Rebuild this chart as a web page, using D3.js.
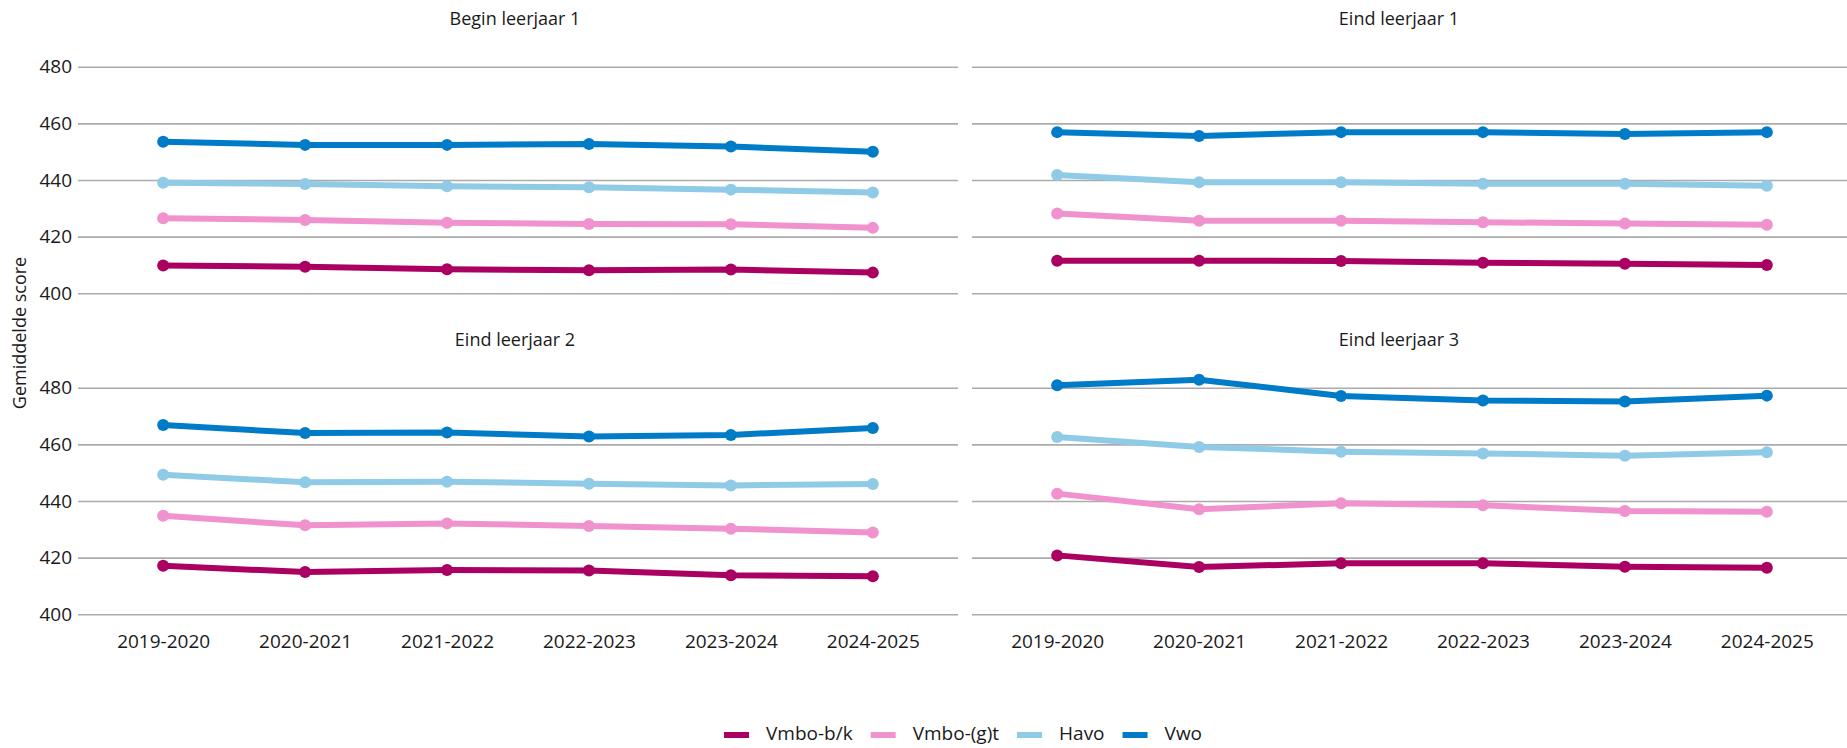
<!DOCTYPE html>
<html>
<head>
<meta charset="utf-8">
<script src="https://cdn.jsdelivr.net/npm/d3@7"></script>
<style>
  html, body { margin: 0; padding: 0; background: #fff; }
  svg text { font-family: "Open Sans", "Noto Sans", sans-serif; fill: #1a1a1a; }
</style>
</head>
<body>
<svg id="chart" width="1847" height="748"></svg>
<script>
// ---- data ----
const years = ["2019-2020", "2020-2021", "2021-2022", "2022-2023", "2023-2024", "2024-2025"];
const seriesNames = ["Vmbo-b/k", "Vmbo-(g)t", "Havo", "Vwo"];
const seriesColors = ["#a90061", "#f092cd", "#8fcae7", "#007bc7"];
const yTicks = [400, 420, 440, 460, 480];
const panelTitles = ["Begin leerjaar 1", "Eind leerjaar 1", "Eind leerjaar 2", "Eind leerjaar 3"];
const yAxisTitle = "Gemiddelde score";

// per panel: [Vmbo-b/k, Vmbo-(g)t, Havo, Vwo]
const beginLeerjaar1 = [
  [409.8, 409.4, 408.5, 408.1, 408.4, 407.3],
  [426.5, 425.9, 424.9, 424.5, 424.4, 423.1],
  [439.0, 438.6, 437.8, 437.4, 436.6, 435.6],
  [453.5, 452.4, 452.4, 452.7, 451.8, 450.0]
];
const eindLeerjaar1 = [
  [411.5, 411.5, 411.4, 410.8, 410.4, 410.0],
  [428.2, 425.6, 425.6, 425.1, 424.6, 424.2],
  [441.8, 439.2, 439.2, 438.7, 438.7, 438.0],
  [456.9, 455.5, 456.9, 456.9, 456.2, 456.9]
];
const eindLeerjaar2 = [
  [417.1, 414.9, 415.6, 415.5, 413.8, 413.4],
  [434.8, 431.4, 432.1, 431.2, 430.2, 428.9],
  [449.3, 446.6, 446.8, 446.1, 445.5, 446.0],
  [466.8, 464.0, 464.2, 462.8, 463.3, 465.8]
];
const eindLeerjaar3 = [
  [420.8, 416.7, 418.0, 418.0, 416.8, 416.4],
  [442.6, 437.1, 439.2, 438.5, 436.5, 436.2],
  [462.6, 459.1, 457.4, 456.8, 456.0, 457.2],
  [480.9, 482.8, 477.1, 475.5, 475.1, 477.2]
];
const panelData = [beginLeerjaar1, eindLeerjaar1, eindLeerjaar2, eindLeerjaar3];

// ---- layout ----
const svg = d3.select("#chart");
const panelW = 880;
const colX = [78, 972];
const rowY = [[293.3, 66.7], [614.3, 387.7]]; // [y(400), y(480)]
const titleX = [515, 1399];
const titleY = [20, 341];
const fontSize = 19;

panelData.forEach((series, i) => {
  const col = i % 2, row = Math.floor(i / 2);
  const x0 = colX[col];
  const x = d3.scalePoint().domain(years).range([x0, x0 + panelW]).padding(0.6);
  const y = d3.scaleLinear().domain([400, 480]).range(rowY[row]);

  // gridlines + y tick labels
  const yAxis = d3.axisLeft(y).tickValues(yTicks).tickSize(-panelW).tickPadding(6);
  if (col === 1) yAxis.tickFormat("");
  const gy = svg.append("g").attr("transform", `translate(${x0},0)`).call(yAxis);
  gy.select(".domain").remove();
  gy.selectAll(".tick line").attr("stroke", "#ababab").attr("stroke-width", 1.6);
  gy.selectAll(".tick text").attr("font-size", fontSize).attr("fill", "#1a1a1a");

  // x axis labels (bottom row only)
  if (row === 1) {
    const gx = svg.append("g").attr("transform", `translate(0,${rowY[row][0]})`)
      .call(d3.axisBottom(x).tickSize(0).tickPadding(20));
    gx.select(".domain").remove();
    gx.selectAll(".tick text").attr("font-size", fontSize).attr("fill", "#1a1a1a");
  }

  // title
  svg.append("text").attr("x", titleX[col]).attr("y", titleY[row])
    .attr("text-anchor", "middle").attr("dominant-baseline", "middle")
    .attr("font-size", 18).text(panelTitles[i]);

  // lines
  const line = d3.line().x((d, j) => x(years[j])).y(d => y(d));
  series.forEach((vals, s) => {
    svg.append("path").datum(vals)
      .attr("fill", "none").attr("stroke", seriesColors[s])
      .attr("stroke-width", 6).attr("stroke-linejoin", "round")
      .attr("d", line);
    svg.append("g").selectAll("circle").data(vals).join("circle")
      .attr("cx", (d, j) => x(years[j])).attr("cy", d => y(d))
      .attr("r", 6).attr("fill", seriesColors[s]);
  });
});

// y axis title
svg.append("text")
  .attr("transform", "translate(21,333) rotate(-90)")
  .attr("text-anchor", "middle").attr("dominant-baseline", "middle")
  .attr("font-size", 18).text(yAxisTitle);

// legend
const legend = svg.append("g");
let lx = 724;
const ly = 735;
seriesNames.forEach((name, s) => {
  legend.append("line").attr("x1", lx).attr("x2", lx + 25).attr("y1", ly).attr("y2", ly)
    .attr("stroke", seriesColors[s]).attr("stroke-width", 6);
  const t = legend.append("text").attr("x", lx + 42).attr("y", ly)
    .attr("dominant-baseline", "middle").attr("font-size", fontSize).text(name);
  lx = lx + 42 + t.node().getComputedTextLength() + 18;
});
</script>
</body>
</html>
